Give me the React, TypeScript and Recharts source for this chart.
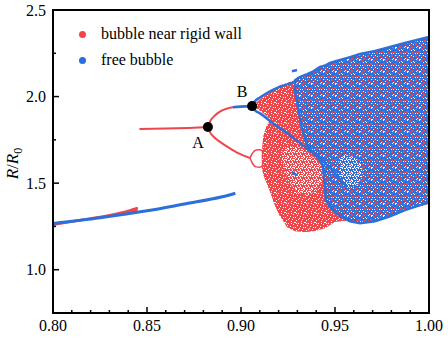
import React from "react";
import {
  ComposedChart,
  XAxis,
  YAxis,
  Line,
  Area,
  Scatter,
  Legend,
  ReferenceArea,
} from "recharts";

const RED = "#EF464B";
const BLUE = "#2B6FDA";
const SERIF = '"Liberation Serif", "Times New Roman", serif';

// ---- ticks ----
const X_TICKS = [
  0.8, 0.81, 0.82, 0.83, 0.84, 0.85, 0.86, 0.87, 0.88, 0.89, 0.9, 0.91, 0.92,
  0.93, 0.94, 0.95, 0.96, 0.97, 0.98, 0.99, 1.0,
];
const Y_TICKS = [1.0, 1.25, 1.5, 1.75, 2.0, 2.25, 2.5];

// ---- periodic branches [x, R/R0] ----
const redLowBranch = [
  [0.8, 1.259], [0.815, 1.287], [0.83, 1.315], [0.84, 1.339], [0.845, 1.357],
];
const blueLowBranch = [
  [0.8, 1.267], [0.825, 1.3], [0.85, 1.34], [0.87, 1.38], [0.89, 1.421], [0.897, 1.442],
];
const redMidBranch = [
  [0.846, 1.812], [0.86, 1.815], [0.872, 1.819], [0.8824, 1.824],
];
const redUpperArc = [
  [0.8824, 1.824], [0.8835, 1.855], [0.886, 1.89], [0.889, 1.915],
  [0.893, 1.932], [0.899, 1.942], [0.9059, 1.945],
];
const redLowerArc = [
  [0.8824, 1.824], [0.8835, 1.795], [0.886, 1.762], [0.889, 1.737],
  [0.8935, 1.705], [0.8985, 1.673], [0.9048, 1.645],
];
const redLoopTop = [
  [0.9048, 1.645], [0.9062, 1.675], [0.908, 1.692], [0.91, 1.693], [0.912, 1.68],
];
const redLoopBottom = [
  [0.9048, 1.645], [0.9062, 1.612], [0.908, 1.594], [0.91, 1.592], [0.912, 1.605],
];
const blueJump = [[0.8957, 1.938], [0.9059, 1.945]];
const blueUpperArc = [
  [0.9059, 1.945], [0.9072, 1.97], [0.9101, 1.995], [0.9138, 2.02],
  [0.9181, 2.045], [0.9233, 2.066], [0.929, 2.085],
];
const blueLowerArc = [
  [0.9059, 1.945], [0.9072, 1.922], [0.9101, 1.903], [0.9172, 1.845],
  [0.9261, 1.777], [0.935, 1.701], [0.942, 1.643], [0.9564, 1.477],
];
const blueDashTop = [[0.9271, 2.146], [0.9298, 2.153]];
const blueDashMid = [[0.927, 1.565], [0.9296, 1.546]];

// ---- chaotic clouds [x, low, high] ----
const redLowWedge = [
  [0.83, 1.31, 1.318], [0.84, 1.326, 1.344], [0.845, 1.332, 1.362],
];
const redFan = [
  [0.9059, 1.945, 1.945], [0.908, 1.932, 1.965], [0.9101, 1.918, 1.985],
  [0.9128, 1.895, 2.008], [0.9154, 1.87, 2.03], [0.9181, 1.845, 2.042],
];
const redLower = [
  [0.911, 1.59, 1.68], [0.9119, 1.546, 1.777], [0.9136, 1.5, 1.83],
  [0.9154, 1.45, 1.866], [0.9181, 1.37, 1.89], [0.9207, 1.31, 1.9],
];
const redMain = [
  [0.917, 1.4, 2.04], [0.9207, 1.31, 2.066], [0.9245, 1.245, 2.078],
  [0.9287, 1.222, 2.095], [0.934, 1.217, 2.118], [0.9394, 1.223, 2.142],
  [0.9447, 1.24, 2.165], [0.95, 1.275, 2.182], [0.958, 1.286, 2.211],
  [0.974, 1.309, 2.246], [1.0, 1.379, 2.269],
];
const redHole = [
  [0.9218, 1.633, 1.679], [0.925, 1.517, 1.708], [0.9298, 1.448, 1.714],
  [0.9351, 1.425, 1.679], [0.9399, 1.46, 1.633], [0.9431, 1.517, 1.598],
  [0.9447, 1.552, 1.564],
];
const blueCloud = [
  [0.9283, 2.062, 2.09], [0.9305, 1.93, 2.108], [0.9325, 1.81, 2.118],
  [0.9352, 1.72, 2.13], [0.9385, 1.672, 2.146], [0.942, 1.633, 2.171],
  [0.9436, 1.598, 2.176], [0.9452, 1.399, 2.182], [0.9473, 1.361, 2.194],
  [0.9527, 1.309, 2.211], [0.958, 1.28, 2.228], [0.9633, 1.269, 2.246],
  [0.9713, 1.28, 2.263], [0.9793, 1.309, 2.286], [0.9872, 1.344, 2.309],
  [1.0, 1.39, 2.344],
];
const blueHoleLow = [
  [0.9527, 1.517, 1.65], [0.9569, 1.471, 1.662], [0.9612, 1.483, 1.645], [0.9644, 1.529, 1.604],
];

const bifurcations = [
  { x: 0.8824, y: 1.824, name: "A" },
  { x: 0.9059, y: 1.945, name: "B" },
];

const legendItems = [
  { label: "bubble near rigid wall", color: RED },
  { label: "free bubble", color: BLUE },
];

const pts = (a: number[][]) => a.map(([x, y]) => ({ x, y }));
const band = (a: number[][]) => a.map(([x, lo, hi]) => ({ x, r: [lo, hi] }));

// speckle tiles for the dense clouds (styling only)
const TILE_BLUE_RED = [
  [1, 0, 2, 2], [7, 1, 2, 1], [10, 3, 2, 2], [4, 4, 2, 2], [0, 7, 2, 1],
  [7, 7, 2, 2], [3, 10, 2, 2], [10, 9, 1, 2], [6, 11, 1, 1], [0, 3, 1, 1], [9, 0, 1, 1],
  [5, 6, 1, 1], [8, 4, 1, 1], [2, 8, 1, 1],
];
const TILE_BLUE_WHITE = [
  [5, 1, 1, 1], [9, 5, 1, 1], [2, 5, 1, 1], [11, 7, 1, 1], [5, 8, 1, 1],
  [0, 11, 1, 1], [8, 11, 1, 1], [3, 2, 1, 1], [1, 9, 1, 1], [11, 0, 1, 1],
  [6, 2, 1, 1], [9, 10, 1, 1], [0, 5, 1, 1], [3, 7, 1, 1], [7, 5, 1, 1], [11, 11, 1, 1],
];
const TILE_RED_WHITE = [
  [1, 1, 1, 1], [6, 0, 1, 1], [3, 4, 1, 1], [8, 3, 1, 1], [0, 6, 1, 1], [5, 7, 1, 1],
  [9, 8, 1, 1], [2, 9, 1, 1], [7, 5, 1, 1], [4, 2, 2, 1], [1, 3, 1, 1], [8, 9, 1, 1],
  [6, 3, 1, 1], [3, 7, 1, 1],
];
const TILE_LIGHT_WHITE = [
  [0, 0, 2, 1], [4, 1, 1, 2], [6, 0, 1, 1], [2, 3, 2, 1], [7, 3, 1, 2], [0, 4, 1, 2],
  [5, 5, 2, 1], [2, 6, 1, 2], [4, 7, 2, 1], [1, 2, 1, 1], [6, 7, 1, 1], [3, 5, 1, 1],
  [5, 3, 1, 1], [7, 6, 1, 1], [3, 0, 1, 1],
];
const TILE_LIGHT_RED = [[1, 1, 1, 1], [6, 4, 1, 1], [3, 7, 1, 1]];

function Tile({ id, size, bg, layers }: any) {
  return (
    <pattern id={id} width={size} height={size} patternUnits="userSpaceOnUse">
      <rect width={size} height={size} fill={bg} shapeRendering="crispEdges" />
      {layers.map((l: any, i: number) =>
        l.rects.map((r: number[], j: number) => (
          <rect key={`${i}-${j}`} x={r[0]} y={r[1]} width={r[2]} height={r[3]} fill={l.color} shapeRendering="crispEdges" />
        )),
      )}
    </pattern>
  );
}

function XTick(props: any) {
  const { x, y, payload } = props;
  const major = Math.round(payload.value * 100) % 5 === 0;
  return (
    <g>
      <line x1={x} y1={y} x2={x} y2={y - (major ? 6 : 3)} stroke="#000" strokeWidth={1.5} />
      {major && (
        <text x={x} y={y + 7} dy="0.71em" textAnchor="middle" fontFamily={SERIF} fontSize={16} fill="#000">
          {payload.value.toFixed(2)}
        </text>
      )}
    </g>
  );
}

function YTick(props: any) {
  const { x, y, payload } = props;
  const major = Math.round(payload.value * 100) % 50 === 0;
  return (
    <g>
      <line x1={x} y1={y} x2={x + (major ? 6 : 3)} y2={y} stroke="#000" strokeWidth={1.5} />
      {major && (
        <text x={x - 7} y={y} dy="0.355em" textAnchor="end" fontFamily={SERIF} fontSize={16} fill="#000">
          {payload.value.toFixed(1)}
        </text>
      )}
    </g>
  );
}

function YLabel(props: any) {
  const vb = props.viewBox || { x: 0, y: 10, width: 53, height: 303 };
  const x = vb.x + 18;
  const y = vb.y + vb.height / 2 + 2;
  return (
    <text x={x} y={y} transform={`rotate(-90 ${x} ${y})`} textAnchor="middle" fontFamily={SERIF} fontSize={17} fill="#000">
      <tspan fontStyle="italic">R</tspan>
      <tspan>/</tspan>
      <tspan fontStyle="italic">R</tspan>
      <tspan fontSize={12} dy={4}>0</tspan>
    </text>
  );
}

function Marker(props: any) {
  const { cx, cy, payload } = props;
  const below = payload.name === "A";
  return (
    <g>
      <circle cx={cx} cy={cy} r={5} fill="#000" />
      <text x={cx - 10} y={below ? cy + 21 : cy - 9} textAnchor="middle" fontFamily={SERIF} fontSize={16} fill="#000">
        {payload.name}
      </text>
    </g>
  );
}

function LegendBox() {
  return (
    <div style={{ fontFamily: SERIF, fontSize: 16, color: "#000" }}>
      {legendItems.map((it) => (
        <div key={it.label} style={{ display: "flex", alignItems: "center", height: 26, whiteSpace: "nowrap" }}>
          <span style={{ width: 7, height: 7, borderRadius: "50%", background: it.color, marginRight: 15, display: "inline-block" }} />
          {it.label}
        </div>
      ))}
    </div>
  );
}

const lineProps = { dot: false, activeDot: false, isAnimationActive: false, type: "monotone" as const };
const areaProps = { dot: false, activeDot: false, isAnimationActive: false, type: "linear" as const, fillOpacity: 1 };

export default function App() {
  return (
    <div style={{ position: "absolute", left: 0, top: 0 }}>
      <ComposedChart width={448} height={338} margin={{ top: 10, right: 19, bottom: 0, left: 0 }}>
        <defs>
          <Tile id="pBlue" size={12} bg={BLUE} layers={[{ color: RED, rects: TILE_BLUE_RED }, { color: "#fff", rects: TILE_BLUE_WHITE }]} />
          <Tile id="pRed" size={10} bg={RED} layers={[{ color: "#fff", rects: TILE_RED_WHITE }]} />
          <Tile id="pRedLight" size={8} bg={RED} layers={[{ color: "#fff", rects: TILE_LIGHT_WHITE }]} />
          <Tile id="pBlueLight" size={8} bg={BLUE} layers={[{ color: "#fff", rects: TILE_LIGHT_WHITE }, { color: RED, rects: TILE_LIGHT_RED }]} />
        </defs>
        <XAxis
          dataKey="x"
          type="number"
          domain={[0.8, 1.0]}
          allowDataOverflow
          ticks={X_TICKS}
          interval={0}
          height={25}
          tickSize={0}
          tickMargin={0}
          tickLine={false}
          tick={<XTick />}
          axisLine={{ stroke: "#000", strokeWidth: 2 }}
        />
        <YAxis
          type="number"
          domain={[0.75, 2.5]}
          allowDataOverflow
          ticks={Y_TICKS}
          interval={0}
          width={53}
          tickSize={0}
          tickMargin={0}
          tickLine={false}
          tick={<YTick />}
          axisLine={{ stroke: "#000", strokeWidth: 2 }}
          label={{ content: (p: any) => <YLabel {...p} /> }}
        />
        <Legend
          layout="vertical"
          align="center"
          verticalAlign="middle"
          wrapperStyle={{ left: 79, top: 21, width: "auto" }}
          content={() => <LegendBox />}
        />

        <Area data={band(redLowWedge)} dataKey="r" stroke="none" fill={RED} {...areaProps} />
        <Area data={band(redFan)} dataKey="r" stroke="none" fill="url(#pRed)" {...areaProps} />
        <Area data={band(redLower)} dataKey="r" stroke="none" fill="url(#pRed)" {...areaProps} />
        <Area data={band(redMain)} dataKey="r" stroke="none" fill="url(#pRed)" {...areaProps} />
        <Area data={band(redHole)} dataKey="r" stroke="none" fill="url(#pRedLight)" {...areaProps} />
        <Area data={band(blueCloud)} dataKey="r" stroke={BLUE} strokeWidth={2.5} fill="url(#pBlue)" {...areaProps} />
        <Area data={band(blueHoleLow)} dataKey="r" stroke="none" fill="url(#pBlueLight)" {...areaProps} />

        <Line data={pts(redLowBranch)} dataKey="y" stroke={RED} strokeWidth={2.5} {...lineProps} />
        <Line data={pts(redMidBranch)} dataKey="y" stroke={RED} strokeWidth={2} {...lineProps} />
        <Line data={pts(redUpperArc)} dataKey="y" stroke={RED} strokeWidth={2} {...lineProps} />
        <Line data={pts(redLowerArc)} dataKey="y" stroke={RED} strokeWidth={2} {...lineProps} />
        <Line data={pts(redLoopTop)} dataKey="y" stroke={RED} strokeWidth={1.5} {...lineProps} />
        <Line data={pts(redLoopBottom)} dataKey="y" stroke={RED} strokeWidth={1.5} {...lineProps} />
        <Line data={pts(blueLowBranch)} dataKey="y" stroke={BLUE} strokeWidth={3} {...lineProps} />
        <Line data={pts(blueJump)} dataKey="y" stroke={BLUE} strokeWidth={2.5} {...lineProps} />
        <Line data={pts(blueUpperArc)} dataKey="y" stroke={BLUE} strokeWidth={2.5} {...lineProps} />
        <Line data={pts(blueLowerArc)} dataKey="y" stroke={BLUE} strokeWidth={2.5} {...lineProps} />
        <Line data={pts(blueDashTop)} dataKey="y" stroke={BLUE} strokeWidth={2.5} {...lineProps} />
        <Line data={pts(blueDashMid)} dataKey="y" stroke={BLUE} strokeWidth={2.5} {...lineProps} />

        <Scatter data={bifurcations} dataKey="y" shape={<Marker />} isAnimationActive={false} />

        <ReferenceArea x1={0.8} x2={1.0} y1={0.75} y2={2.5} fill="none" stroke="#000" strokeWidth={2} />
      </ComposedChart>
    </div>
  );
}
